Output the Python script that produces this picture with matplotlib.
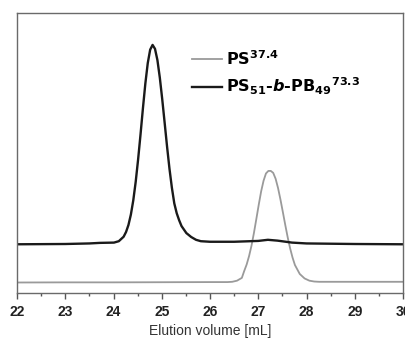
import matplotlib
matplotlib.use("Agg")
import matplotlib.pyplot as plt

plt.rcParams["font.family"] = ["Liberation Sans", "DejaVu Sans"]
plt.rcParams["mathtext.fontset"] = "custom"
plt.rcParams["mathtext.rm"] = "DejaVu Sans:bold"
plt.rcParams["mathtext.bf"] = "DejaVu Sans:bold"
plt.rcParams["mathtext.it"] = "DejaVu Sans:bold:italic"

# SEC traces: elution volume (mL) and normalised detector response
ps_volume = [22.0, 23.0, 24.0, 25.0, 26.0, 26.36, 26.46, 26.56, 26.66, 26.71,
             26.76, 26.81, 26.86, 26.91, 26.96, 27.01, 27.06, 27.11, 27.16,
             27.21, 27.26, 27.31, 27.36, 27.41, 27.46, 27.51, 27.56, 27.61,
             27.66, 27.71, 27.76, 27.86, 27.96, 28.06, 28.16, 28.26, 28.6,
             29.0, 29.5, 30.0]
ps_signal = [0.0375, 0.038, 0.038, 0.0385, 0.039, 0.039, 0.040, 0.044, 0.054,
             0.079, 0.102, 0.132, 0.169, 0.214, 0.264, 0.315, 0.363, 0.401,
             0.427, 0.436, 0.436, 0.429, 0.408, 0.375, 0.334, 0.289, 0.243,
             0.199, 0.160, 0.127, 0.100, 0.068, 0.052, 0.044, 0.041, 0.040,
             0.040, 0.040, 0.040, 0.040]

block_volume = [22.0, 23.0, 23.5, 23.72, 24.01, 24.11, 24.21, 24.26, 24.31,
                24.36, 24.41, 24.46, 24.51, 24.56, 24.61, 24.66, 24.71, 24.76,
                24.81, 24.86, 24.91, 24.96, 25.01, 25.06, 25.11, 25.16, 25.21,
                25.26, 25.31, 25.36, 25.41, 25.51, 25.61, 25.71, 25.81, 26.0,
                26.5, 27.0, 27.2, 27.4, 27.7, 28.0, 29.0, 30.0]
block_signal = [0.174, 0.175, 0.177, 0.179, 0.180, 0.185, 0.201, 0.218, 0.243,
                0.280, 0.331, 0.397, 0.477, 0.566, 0.660, 0.748, 0.821, 0.869,
                0.886, 0.872, 0.832, 0.769, 0.692, 0.608, 0.523, 0.444, 0.376,
                0.320, 0.285, 0.260, 0.239, 0.214, 0.200, 0.190, 0.185, 0.183,
                0.183, 0.186, 0.190, 0.187, 0.180, 0.177, 0.175, 0.174]

ps_label = r"$\mathrm{PS}^{37.4}$"
block_label = r"$\mathrm{PS}_{51}$-$\mathit{b}$-${\mathrm{PB}_{49}}^{73.3}$"

x_ticks = [22, 23, 24, 25, 26, 27, 28, 29, 30]

fig = plt.figure(figsize=(4.05, 3.41), dpi=100)
ax = fig.add_axes([17 / 405, 48 / 341, 386 / 405, 280 / 341])

ax.plot(ps_volume, ps_signal, color="#9a9a9a", lw=1.3, label=ps_label)
ax.plot(block_volume, block_signal, color="#1a1a1a", lw=1.7, label=block_label)

ax.set_xlim(22, 30)
ax.set_ylim(0, 1)
ax.set_yticks([])
ax.set_xticks(x_ticks)
ax.set_xticks([v + 0.5 for v in x_ticks[:-1]], minor=True)
ax.tick_params(axis="x", which="major", direction="out", length=4, width=1,
               color="#555555", pad=5, labelsize=10)
ax.tick_params(axis="x", which="minor", direction="out", length=2, width=1,
               color="#555555")
for lbl in ax.get_xticklabels():
    lbl.set_fontweight("bold")
    lbl.set_color("#222222")

for sp in ax.spines.values():
    sp.set_color("#6a6a6a")
    sp.set_linewidth(1.0)

ax.set_xlabel("Elution volume [mL]", fontsize=10, color="#333333", labelpad=3)

leg = ax.legend(loc="upper left", bbox_to_anchor=(0.453, 0.872), frameon=False,
                handlelength=1.9, handletextpad=0.25,
                labelspacing=0.5, borderpad=0, borderaxespad=0,
                prop={"family": "DejaVu Sans", "weight": "bold", "size": 11.6})

fig.savefig("out.png", dpi=100)
